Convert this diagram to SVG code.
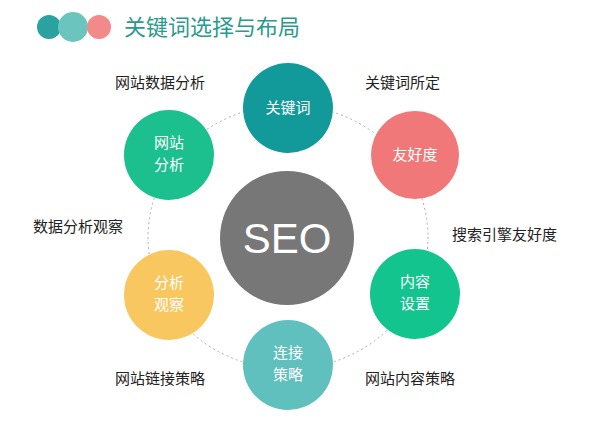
<svg xmlns="http://www.w3.org/2000/svg" width="600" height="422" viewBox="0 0 600 422">
<style>
.lbl{font-family:"Noto Sans CJK SC","Liberation Sans",sans-serif;font-size:15px;fill:#222}
.nt{font-family:"Noto Sans CJK SC",serif;font-size:15px;fill:#fff;text-anchor:middle}
</style>
<rect width="600" height="422" fill="#fff"/>
<g id="header">
<circle cx="49" cy="27" r="12" fill="#2aa3a0"/>
<circle cx="73" cy="27" r="15" fill="#6cc4be"/>
<circle cx="99" cy="27" r="12" fill="#f38a8a"/>
<text x="124" y="35" font-family="Noto Sans CJK SC,sans-serif" font-size="22" fill="#2a9a8c">关键词选择与布局</text>
</g>
<g id="connectors">
<ellipse cx="288" cy="237" rx="140" ry="132" fill="none" stroke="#aaa" stroke-width="1" stroke-dasharray="2,3"/>
</g>
<g id="seo"><circle cx="287" cy="238" r="67" fill="#777"/>
<text x="287" y="253" font-family="Liberation Sans,sans-serif" font-size="42" fill="#fff" text-anchor="middle">SEO</text></g>
<g id="n1"><circle cx="288" cy="108" r="45" fill="#12999a"/><text class="nt" x="288" y="113">关键词</text></g>
<g id="n2"><circle cx="415" cy="155" r="44" fill="#f07878"/><text class="nt" x="415" y="160">友好度</text></g>
<g id="n3"><circle cx="415" cy="294" r="45" fill="#13c48f"/><text class="nt" x="415" y="287">内容</text><text class="nt" x="415" y="309">设置</text></g>
<g id="n4"><circle cx="288" cy="365" r="45" fill="#5fc0bd"/><text class="nt" x="288" y="358">连接</text><text class="nt" x="288" y="380">策略</text></g>
<g id="n5"><circle cx="169" cy="295" r="45" fill="#f9c75f"/><text class="nt" x="169" y="288">分析</text><text class="nt" x="169" y="310">观察</text></g>
<g id="n6"><circle cx="169" cy="155" r="45" fill="#1bc08e"/><text class="nt" x="169" y="148">网站</text><text class="nt" x="169" y="170">分析</text></g>
<g id="labels">
<text class="lbl" x="115" y="88">网站数据分析</text>
<text class="lbl" x="365" y="88">关键词所定</text>
<text class="lbl" x="33" y="232">数据分析观察</text>
<text class="lbl" x="452" y="240">搜索引擎友好度</text>
<text class="lbl" x="115" y="384">网站链接策略</text>
<text class="lbl" x="365" y="384">网站内容策略</text>
</g>
</svg>
